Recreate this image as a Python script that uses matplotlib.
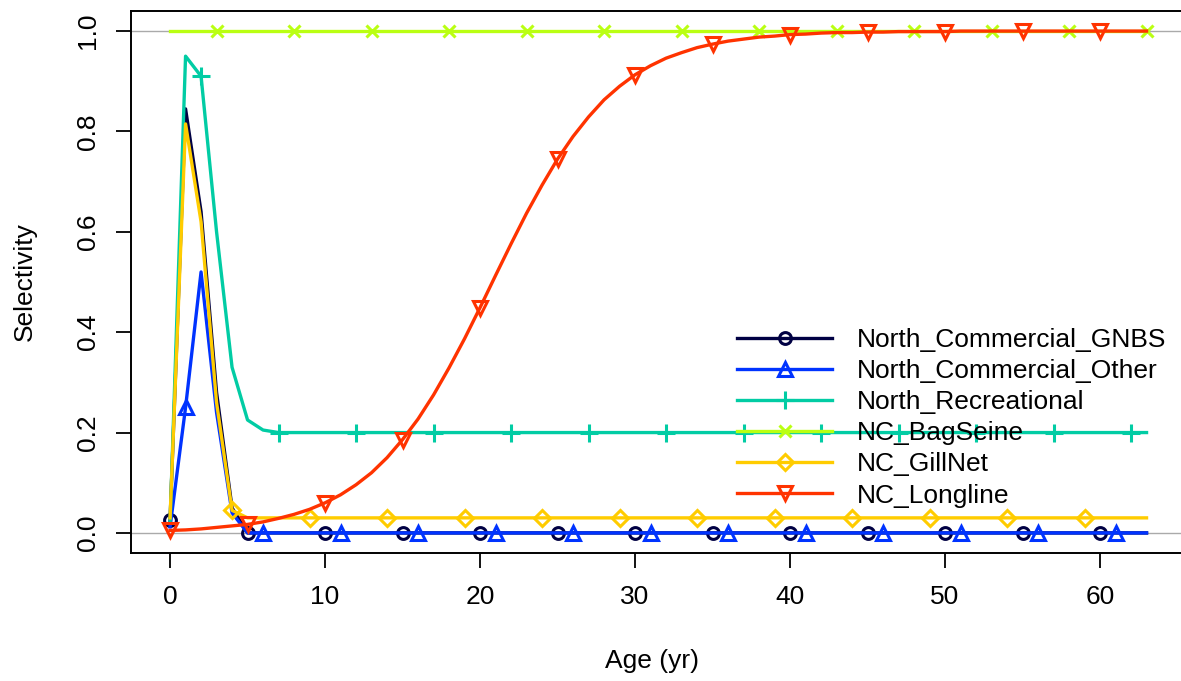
import matplotlib
matplotlib.use("Agg")
import matplotlib.pyplot as plt

plt.rcParams['font.family'] = ['Liberation Sans', 'DejaVu Sans']

ages = list(range(64))

series_names = ["North_Commercial_GNBS", "North_Commercial_Other", "North_Recreational",
                "NC_BagSeine", "NC_GillNet", "NC_Longline"]

north_commercial_gnbs = [
    0.025, 0.845, 0.64, 0.28, 0.05, 0.0, 0.0, 0.0, 0.0, 0.0,
    0.0, 0.0, 0.0, 0.0, 0.0, 0.0, 0.0, 0.0, 0.0, 0.0,
    0.0, 0.0, 0.0, 0.0, 0.0, 0.0, 0.0, 0.0, 0.0, 0.0,
    0.0, 0.0, 0.0, 0.0, 0.0, 0.0, 0.0, 0.0, 0.0, 0.0,
    0.0, 0.0, 0.0, 0.0, 0.0, 0.0, 0.0, 0.0, 0.0, 0.0,
    0.0, 0.0, 0.0, 0.0, 0.0, 0.0, 0.0, 0.0, 0.0, 0.0,
    0.0, 0.0, 0.0, 0.0]

north_commercial_other = [
    0.012, 0.25, 0.52, 0.24, 0.04, 0.0, 0.0, 0.0, 0.0, 0.0,
    0.0, 0.0, 0.0, 0.0, 0.0, 0.0, 0.0, 0.0, 0.0, 0.0,
    0.0, 0.0, 0.0, 0.0, 0.0, 0.0, 0.0, 0.0, 0.0, 0.0,
    0.0, 0.0, 0.0, 0.0, 0.0, 0.0, 0.0, 0.0, 0.0, 0.0,
    0.0, 0.0, 0.0, 0.0, 0.0, 0.0, 0.0, 0.0, 0.0, 0.0,
    0.0, 0.0, 0.0, 0.0, 0.0, 0.0, 0.0, 0.0, 0.0, 0.0,
    0.0, 0.0, 0.0, 0.0]

north_recreational = [
    0.02, 0.95, 0.91, 0.60, 0.33, 0.225, 0.205, 0.2, 0.2, 0.2,
    0.2, 0.2, 0.2, 0.2, 0.2, 0.2, 0.2, 0.2, 0.2, 0.2,
    0.2, 0.2, 0.2, 0.2, 0.2, 0.2, 0.2, 0.2, 0.2, 0.2,
    0.2, 0.2, 0.2, 0.2, 0.2, 0.2, 0.2, 0.2, 0.2, 0.2,
    0.2, 0.2, 0.2, 0.2, 0.2, 0.2, 0.2, 0.2, 0.2, 0.2,
    0.2, 0.2, 0.2, 0.2, 0.2, 0.2, 0.2, 0.2, 0.2, 0.2,
    0.2, 0.2, 0.2, 0.2]

nc_bagseine = [
    1.0, 1.0, 1.0, 1.0, 1.0, 1.0, 1.0, 1.0, 1.0, 1.0,
    1.0, 1.0, 1.0, 1.0, 1.0, 1.0, 1.0, 1.0, 1.0, 1.0,
    1.0, 1.0, 1.0, 1.0, 1.0, 1.0, 1.0, 1.0, 1.0, 1.0,
    1.0, 1.0, 1.0, 1.0, 1.0, 1.0, 1.0, 1.0, 1.0, 1.0,
    1.0, 1.0, 1.0, 1.0, 1.0, 1.0, 1.0, 1.0, 1.0, 1.0,
    1.0, 1.0, 1.0, 1.0, 1.0, 1.0, 1.0, 1.0, 1.0, 1.0,
    1.0, 1.0, 1.0, 1.0]

nc_gillnet = [
    0.03, 0.815, 0.62, 0.26, 0.045, 0.03, 0.03, 0.03, 0.03, 0.03,
    0.03, 0.03, 0.03, 0.03, 0.03, 0.03, 0.03, 0.03, 0.03, 0.03,
    0.03, 0.03, 0.03, 0.03, 0.03, 0.03, 0.03, 0.03, 0.03, 0.03,
    0.03, 0.03, 0.03, 0.03, 0.03, 0.03, 0.03, 0.03, 0.03, 0.03,
    0.03, 0.03, 0.03, 0.03, 0.03, 0.03, 0.03, 0.03, 0.03, 0.03,
    0.03, 0.03, 0.03, 0.03, 0.03, 0.03, 0.03, 0.03, 0.03, 0.03,
    0.03, 0.03, 0.03, 0.03]

nc_longline = [
    0.005, 0.006, 0.008, 0.011, 0.014, 0.017, 0.022, 0.029, 0.037, 0.047,
    0.060, 0.076, 0.096, 0.120, 0.150, 0.186, 0.227, 0.275, 0.329, 0.387,
    0.449, 0.513, 0.576, 0.637, 0.693, 0.745, 0.790, 0.829, 0.863, 0.890,
    0.913, 0.931, 0.946, 0.957, 0.967, 0.974, 0.980, 0.984, 0.988, 0.990,
    0.993, 0.994, 0.996, 0.997, 0.997, 0.998, 0.998, 0.999, 0.999, 0.999,
    0.999, 1.0, 1.0, 1.0, 1.0, 1.0, 1.0, 1.0, 1.0, 1.0,
    1.0, 1.0, 1.0, 1.0]

colors = ["#000043", "#0033FF", "#01CCA4", "#BAFF12", "#FFCC00", "#FF3300"]
markers = ["o", "^", "+", "x", "D", "v"]
marker_offsets = [0, 1, 2, 3, 4, 0]
marker_sizes = [8.5, 10, 13, 9, 8, 10]

x_ticks = [0, 10, 20, 30, 40, 50, 60]
y_ticks = [0.0, 0.2, 0.4, 0.6, 0.8, 1.0]
y_tick_labels = ["0.0", "0.2", "0.4", "0.6", "0.8", "1.0"]

FS = 19
W, H = 1181, 681
fig = plt.figure(figsize=(W / 100, H / 100), dpi=100)
left, right, top, bottom = 131, 1185.6, 11, 553
ax = fig.add_axes([left / W, 1 - bottom / H, (right - left) / W, (bottom - top) / H])

ax.axhline(0, color="#aaaaaa", lw=1.0, zorder=1)
ax.axhline(1, color="#aaaaaa", lw=1.0, zorder=1)

all_series = [north_commercial_gnbs, north_commercial_other, north_recreational,
              nc_bagseine, nc_gillnet, nc_longline]
for vals, name, c, m, off, ms in zip(all_series, series_names, colors, markers,
                                     marker_offsets, marker_sizes):
    ax.plot(ages, vals, color=c, lw=2.4, marker=m, markevery=(off, 5),
            markersize=ms, markerfacecolor="none", markeredgecolor=c,
            markeredgewidth=2.2, label=name, zorder=3)

ax.set_xlim(-2.52, 65.52)
ax.set_ylim(-0.04, 1.04)
ax.set_xticks(x_ticks)
ax.set_xticklabels([str(t) for t in x_ticks])
ax.set_yticks(y_ticks)
ax.set_yticklabels(y_tick_labels, rotation=90, va="center")
ax.tick_params(axis="both", direction="out", length=11, width=1.3,
               labelsize=FS, pad=12, color="black")
ax.tick_params(axis="y", pad=11)
for s in ax.spines.values():
    s.set_linewidth(1.4)
    s.set_color("black")

fig.text(652 / W, 1 - 661 / H, "Age (yr)", ha="center", va="center", fontsize=FS)
fig.text(25 / W, 1 - 282 / H, "Selectivity", ha="center", va="center",
         rotation=90, fontsize=FS)

leg = ax.legend(loc="upper left", bbox_to_anchor=(737 / W, 1 - 328 / H),
                bbox_transform=fig.transFigure, frameon=False, fontsize=FS,
                handlelength=3.6, handletextpad=0.95, labelspacing=0.27,
                borderpad=0, borderaxespad=0, numpoints=1)
for h in leg.legend_handles:
    h.set_markevery([1])

fig.savefig("out.png", dpi=100)
